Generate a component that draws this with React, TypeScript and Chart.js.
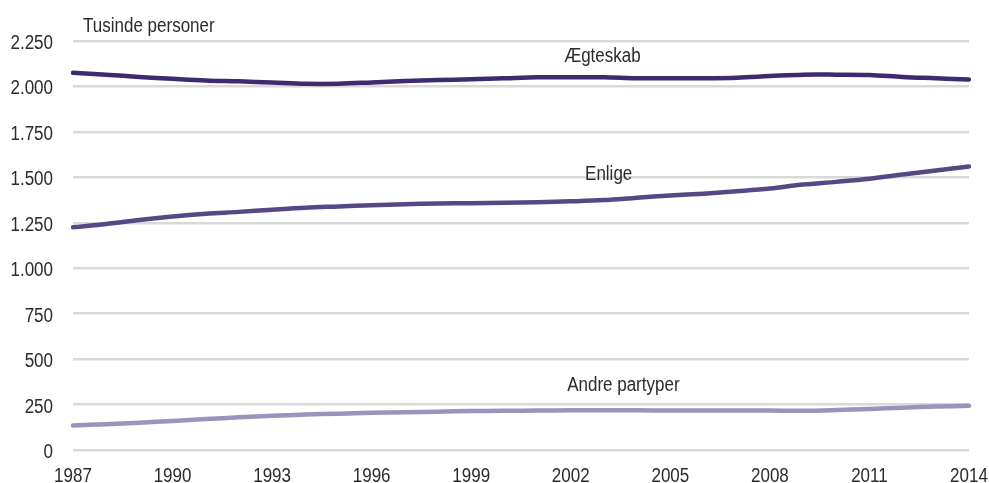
import React, { useEffect, useRef } from "react";
import { Chart, registerables } from "chart.js";

Chart.register(...registerables);

const years = [
  "1987", "1988", "1989", "1990", "1991", "1992", "1993", "1994", "1995", "1996",
  "1997", "1998", "1999", "2000", "2001", "2002", "2003", "2004", "2005", "2006",
  "2007", "2008", "2009", "2010", "2011", "2012", "2013", "2014",
];

const aegteskab = [
  2075, 2065, 2052, 2042, 2033, 2028, 2022, 2015, 2015, 2022,
  2030, 2035, 2040, 2045, 2050, 2050, 2050, 2045, 2045, 2045,
  2048, 2057, 2065, 2065, 2063, 2052, 2045, 2038,
];

const enlige = [
  1225, 1243, 1265, 1285, 1300, 1310, 1322, 1333, 1340, 1347,
  1352, 1356, 1358, 1360, 1363, 1368, 1375, 1388, 1400, 1410,
  1423, 1438, 1460, 1475, 1492, 1515, 1538, 1560,
];

const andre = [
  135, 142, 150, 160, 170, 180, 188, 195, 200, 205,
  208, 211, 214, 216, 217, 218, 218, 218, 217, 217,
  217, 217, 216, 220, 226, 233, 239, 243,
];

const seriesNames = ["Ægteskab", "Enlige", "Andre partyper"];
const unitLabel = "Tusinde personer";

const FONT = "'Liberation Sans', Arial, sans-serif";
const TEXT = "#2b2b2b";
const SQUEEZE = 0.85;

function fmt(v: number): string {
  const s = Math.round(v).toString();
  return s.replace(/\B(?=(\d{3})+(?!\d))/g, ".");
}

function narrowText(ctx: CanvasRenderingContext2D, t: string, x: number, y: number, align: CanvasTextAlign) {
  ctx.save();
  ctx.translate(x, y);
  ctx.scale(SQUEEZE, 1);
  ctx.textAlign = align;
  ctx.fillText(t, 0, 0);
  ctx.restore();
}

const textPlugin = {
  id: "narrowTexts",
  afterDraw(chart: any) {
    const { ctx, scales } = chart;
    const x = scales.x;
    const y = scales.y;
    ctx.save();
    ctx.fillStyle = TEXT;
    ctx.font = `20px ${FONT}`;
    ctx.textBaseline = "alphabetic";
    // y-axis tick labels
    y.ticks.forEach((t: any, i: number) => {
      narrowText(ctx, fmt(t.value), x.left - 20, y.getPixelForTick(i) + 8, "right");
    });
    // x-axis tick labels
    years.forEach((lab, i) => {
      if (i % 3 !== 0) return;
      narrowText(ctx, lab, x.getPixelForValue(i), y.bottom + 32, "center");
    });
    // series labels (anchored in data coordinates)
    const spots: [string, number, number][] = [
      [seriesNames[0], 14.8, 2134],
      [seriesNames[1], 15.43, 1488],
      [seriesNames[2], 14.89, 324],
    ];
    for (const [t, xi, yv] of spots) {
      narrowText(ctx, t, x.getPixelForValue(xi), y.getPixelForValue(yv), "left");
    }
    narrowText(ctx, unitLabel, 83, 31.5, "left");
    ctx.restore();
  },
};

export default function App() {
  const ref = useRef<HTMLCanvasElement | null>(null);
  useEffect(() => {
    document.body.style.margin = "0";
    const canvas = ref.current!;
    const chart = new Chart(canvas, {
      type: "line",
      data: {
        labels: years,
        datasets: [
          { label: seriesNames[0], data: aegteskab, borderColor: "#3e2a6f" },
          { label: seriesNames[1], data: enlige, borderColor: "#574785" },
          { label: seriesNames[2], data: andre, borderColor: "#9b93bc" },
        ].map((d) => ({
          ...d,
          borderWidth: 4.5,
          pointRadius: 0,
          tension: 0.35,
          borderCapStyle: "round" as const,
          fill: false,
        })),
      },
      options: {
        animation: false,
        responsive: false,
        layout: { padding: { top: 41, right: 20, left: 0, bottom: 0 } },
        plugins: { legend: { display: false }, tooltip: { enabled: false } },
        scales: {
          x: {
            offset: false,
            grid: { display: false, drawTicks: false },
            border: { display: false },
            ticks: { display: false },
            afterFit: (s: any) => {
              s.height = 33;
            },
          },
          y: {
            min: 0,
            max: 2250,
            grid: { color: "#d9d9d9", lineWidth: 2.5, drawTicks: false },
            border: { display: false },
            ticks: { stepSize: 250, display: false },
            afterFit: (s: any) => {
              s.width = 73;
            },
          },
        },
      },
      plugins: [textPlugin],
    });
    return () => chart.destroy();
  }, []);
  return (
    <div style={{ width: 989, height: 483 }}>
      <canvas ref={ref} width={989} height={483} style={{ display: "block" }} />
    </div>
  );
}
